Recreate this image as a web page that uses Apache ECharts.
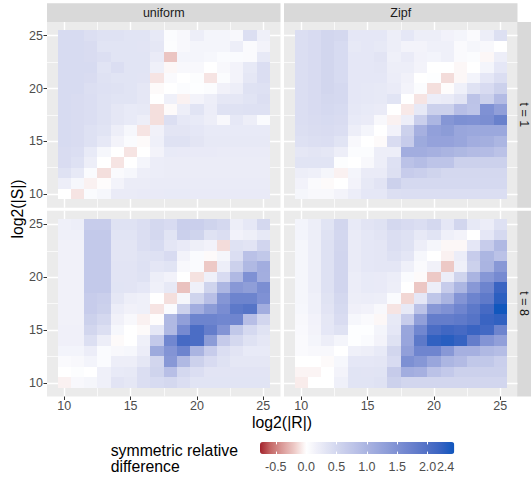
<!DOCTYPE html>
<html>
<head>
<meta charset="utf-8">
<script src="https://cdn.jsdelivr.net/npm/echarts@6/dist/echarts.min.js"></script>
<style>
html, body { margin: 0; padding: 0; background: #ffffff; }
#chart { width: 531px; height: 478px; }
</style>
</head>
<body>
<div id="chart"></div>
<script>
// grid values: x = log2(|R|), y = log2(|S|), rows go from y = 25 down to y = 10
const xValues = [10, 11, 12, 13, 14, 15, 16, 17, 18, 19, 20, 21, 22, 23, 24, 25]
const yValues = [25, 24, 23, 22, 21, 20, 19, 18, 17, 16, 15, 14, 13, 12, 11, 10]

const columnNames = ['uniform', 'Zipf']
const rowNames = ['t = 1', 't = 8']

const uniformT1 = [
  [0.46, 0.46, 0.40, 0.36, 0.36, 0.34, 0.34, 0.27, 0.04, 0.08, 0.20, 0.12, 0.12, 0.08, 0.40, 0.18],
  [0.46, 0.46, 0.44, 0.34, 0.34, 0.34, 0.33, 0.30, 0.03, 0.08, 0.12, 0.12, 0.12, 0.20, 0.06, 0.14],
  [0.46, 0.46, 0.44, 0.40, 0.34, 0.34, 0.34, 0.24, -0.22, 0.12, 0.12, 0.10, 0.05, 0.05, 0.06, 0.27],
  [0.46, 0.46, 0.46, 0.34, 0.42, 0.34, 0.34, 0.18, -0.03, 0.08, 0.08, 0.00, 0.08, 0.14, 0.27, 0.42],
  [0.46, 0.46, 0.44, 0.36, 0.34, 0.34, 0.33, -0.10, 0.06, 0.00, 0.03, -0.10, 0.04, 0.14, 0.30, 0.42],
  [0.46, 0.46, 0.40, 0.38, 0.36, 0.34, 0.30, -0.02, 0.00, 0.04, 0.02, 0.04, 0.16, 0.20, 0.36, 0.38],
  [0.46, 0.44, 0.42, 0.36, 0.34, 0.34, 0.30, 0.00, 0.18, -0.05, 0.14, 0.20, 0.30, 0.30, 0.34, 0.40],
  [0.46, 0.44, 0.42, 0.36, 0.30, 0.26, 0.27, -0.12, -0.02, 0.20, 0.34, 0.22, 0.36, 0.36, 0.38, 0.38],
  [0.46, 0.44, 0.42, 0.36, 0.30, 0.26, 0.20, -0.12, 0.40, 0.28, 0.26, 0.20, 0.08, 0.28, 0.20, 0.05],
  [0.46, 0.44, 0.38, 0.34, 0.20, 0.10, -0.10, 0.16, 0.32, 0.32, 0.29, 0.26, 0.26, 0.26, 0.26, 0.26],
  [0.46, 0.44, 0.38, 0.28, 0.14, 0.05, -0.02, 0.18, 0.36, 0.36, 0.32, 0.27, 0.27, 0.27, 0.27, 0.27],
  [0.44, 0.42, 0.26, 0.10, 0.00, -0.10, 0.00, 0.14, 0.26, 0.25, 0.25, 0.25, 0.24, 0.24, 0.24, 0.24],
  [0.44, 0.38, 0.20, 0.00, -0.10, 0.00, 0.12, 0.22, 0.23, 0.23, 0.23, 0.23, 0.23, 0.23, 0.23, 0.23],
  [0.36, 0.27, 0.05, -0.12, 0.06, 0.10, 0.20, 0.22, 0.23, 0.23, 0.23, 0.23, 0.23, 0.23, 0.23, 0.23],
  [0.20, 0.10, -0.05, -0.01, 0.14, 0.23, 0.23, 0.24, 0.24, 0.24, 0.24, 0.24, 0.24, 0.24, 0.24, 0.24],
  [0.00, -0.10, 0.05, 0.10, 0.24, 0.24, 0.25, 0.25, 0.26, 0.26, 0.25, 0.25, 0.25, 0.25, 0.25, 0.25]
]

const zipfT1 = [
  [0.41, 0.45, 0.52, 0.50, 0.29, 0.29, 0.29, 0.20, 0.29, 0.20, 0.20, 0.15, 0.12, 0.06, 0.20, 0.39],
  [0.41, 0.45, 0.52, 0.46, 0.27, 0.29, 0.27, 0.20, 0.14, 0.14, 0.18, 0.18, 0.06, 0.11, 0.08, 0.00],
  [0.41, 0.45, 0.52, 0.46, 0.29, 0.29, 0.33, 0.18, 0.24, 0.15, 0.13, 0.18, 0.06, 0.04, -0.03, 0.20],
  [0.41, 0.45, 0.52, 0.46, 0.29, 0.29, 0.31, 0.20, 0.20, 0.14, 0.00, 0.00, -0.03, 0.00, 0.12, 0.29],
  [0.41, 0.45, 0.52, 0.46, 0.29, 0.29, 0.29, 0.22, 0.16, 0.00, 0.02, -0.13, -0.03, 0.13, 0.29, 0.41],
  [0.42, 0.45, 0.52, 0.48, 0.29, 0.28, 0.27, 0.24, 0.14, 0.04, -0.12, -0.01, 0.18, 0.36, 0.45, 0.59],
  [0.42, 0.45, 0.50, 0.48, 0.29, 0.28, 0.27, 0.34, 0.00, -0.10, 0.21, 0.24, 0.33, 0.79, 0.59, 0.90],
  [0.42, 0.45, 0.48, 0.46, 0.28, 0.26, 0.24, 0.00, -0.08, 0.27, 0.59, 0.59, 0.85, 0.77, 1.50, 1.30],
  [0.42, 0.44, 0.46, 0.44, 0.26, 0.24, 0.08, -0.05, 0.20, 0.62, 0.98, 1.43, 1.52, 1.50, 1.55, 1.75],
  [0.40, 0.43, 0.44, 0.42, 0.20, 0.12, 0.00, 0.15, 0.59, 1.05, 1.28, 1.35, 1.20, 1.17, 1.17, 1.17],
  [0.38, 0.40, 0.42, 0.34, 0.08, 0.00, -0.02, 0.44, 0.65, 1.15, 1.25, 1.25, 1.20, 1.10, 1.07, 0.98],
  [0.30, 0.32, 0.30, 0.20, 0.04, 0.04, 0.20, 0.20, 1.10, 1.10, 1.05, 1.00, 0.95, 0.90, 0.88, 0.80],
  [0.34, 0.34, 0.34, 0.03, 0.00, 0.08, 0.20, 0.37, 0.80, 0.87, 0.77, 0.77, 0.59, 0.59, 0.59, 0.59],
  [0.20, 0.18, 0.11, -0.05, 0.12, 0.24, 0.24, 0.39, 0.65, 0.62, 0.55, 0.50, 0.50, 0.50, 0.50, 0.50],
  [0.15, 0.06, -0.02, 0.00, 0.14, 0.27, 0.33, 0.59, 0.48, 0.48, 0.48, 0.48, 0.48, 0.48, 0.48, 0.48],
  [0.11, 0.08, 0.08, 0.14, 0.22, 0.29, 0.29, 0.40, 0.41, 0.41, 0.41, 0.41, 0.41, 0.41, 0.41, 0.41]
]

const uniformT8 = [
  [0.18, 0.20, 0.65, 0.65, 0.36, 0.36, 0.41, 0.50, 0.45, 0.62, 0.62, 0.55, 0.50, 0.20, 0.28, 0.50],
  [0.18, 0.18, 0.70, 0.70, 0.34, 0.34, 0.42, 0.50, 0.34, 0.60, 0.55, 0.36, 0.42, 0.15, 0.19, 0.27],
  [0.16, 0.16, 0.70, 0.70, 0.32, 0.32, 0.41, 0.46, 0.31, 0.25, 0.19, 0.15, -0.13, 0.36, 0.33, 0.53],
  [0.16, 0.16, 0.70, 0.70, 0.32, 0.32, 0.36, 0.38, 0.45, 0.14, 0.05, -0.02, 0.11, 0.41, 0.82, 0.72],
  [0.16, 0.16, 0.70, 0.70, 0.33, 0.33, 0.38, 0.31, 0.34, 0.08, 0.05, -0.20, 0.20, 0.59, 0.93, 1.10],
  [0.16, 0.16, 0.70, 0.70, 0.33, 0.33, 0.36, 0.20, 0.15, 0.00, -0.11, 0.18, 0.45, 0.93, 1.50, 1.08],
  [0.16, 0.16, 0.70, 0.70, 0.34, 0.33, 0.29, 0.18, 0.27, -0.23, 0.18, 0.55, 0.98, 1.40, 1.32, 1.55],
  [0.16, 0.16, 0.65, 0.62, 0.30, 0.20, 0.18, 0.00, -0.12, 0.11, 0.55, 0.84, 1.43, 1.70, 1.70, 1.50],
  [0.16, 0.16, 0.65, 0.59, 0.22, 0.16, 0.18, -0.10, 0.05, 0.59, 1.10, 1.35, 1.56, 1.87, 1.95, 1.10],
  [0.16, 0.16, 0.59, 0.50, 0.16, 0.08, -0.05, -0.01, 0.93, 1.30, 1.70, 1.70, 1.65, 1.68, 0.85, 0.52],
  [0.17, 0.17, 0.52, 0.40, 0.10, 0.00, -0.02, 0.29, 0.93, 1.60, 2.05, 1.80, 1.45, 0.72, 0.48, 0.35],
  [0.17, 0.17, 0.40, 0.20, -0.02, 0.00, 0.18, 0.70, 1.65, 2.10, 2.05, 1.35, 0.68, 0.50, 0.36, 0.30],
  [0.13, 0.13, 0.22, 0.05, 0.08, 0.10, 0.22, 1.15, 1.45, 1.70, 1.00, 0.65, 0.41, 0.33, 0.26, 0.26],
  [0.06, 0.08, 0.13, 0.05, 0.20, 0.20, 0.30, 0.52, 1.40, 0.93, 0.59, 0.45, 0.36, 0.30, 0.30, 0.30],
  [0.00, 0.03, 0.00, 0.18, 0.26, 0.27, 0.41, 0.55, 0.84, 0.50, 0.41, 0.33, 0.33, 0.33, 0.33, 0.33],
  [-0.05, 0.08, 0.11, 0.18, 0.33, 0.30, 0.41, 0.46, 0.50, 0.41, 0.34, 0.34, 0.34, 0.34, 0.34, 0.34]
]

const zipfT8 = [
  [0.13, 0.20, 0.34, 0.52, 0.26, 0.33, 0.36, 0.50, 0.45, 0.41, 0.50, 0.29, 0.52, 0.27, 0.21, 0.37],
  [0.13, 0.20, 0.36, 0.51, 0.24, 0.29, 0.33, 0.42, 0.37, 0.27, 0.34, 0.18, 0.14, 0.00, 0.29, 0.48],
  [0.11, 0.20, 0.37, 0.52, 0.24, 0.29, 0.31, 0.41, 0.36, 0.20, 0.11, -0.03, -0.03, 0.29, 0.65, 0.93],
  [0.11, 0.20, 0.37, 0.53, 0.24, 0.29, 0.31, 0.37, 0.31, 0.10, 0.00, -0.05, 0.22, 0.65, 0.97, 0.80],
  [0.11, 0.20, 0.37, 0.53, 0.24, 0.29, 0.31, 0.31, 0.18, 0.06, 0.16, -0.20, 0.18, 0.59, 1.00, 1.40],
  [0.11, 0.20, 0.37, 0.53, 0.22, 0.26, 0.25, 0.22, 0.05, -0.02, -0.20, 0.22, 0.55, 1.00, 1.42, 1.60],
  [0.11, 0.20, 0.37, 0.53, 0.22, 0.26, 0.25, 0.20, 0.00, -0.21, 0.20, 0.65, 0.97, 1.40, 1.70, 2.20],
  [0.11, 0.18, 0.35, 0.50, 0.20, 0.22, 0.20, 0.05, -0.15, 0.29, 0.75, 1.00, 1.45, 1.70, 1.85, 2.28],
  [0.10, 0.18, 0.33, 0.47, 0.17, 0.15, 0.08, -0.10, 0.27, 0.80, 1.40, 1.50, 1.68, 1.87, 2.10, 2.43],
  [0.08, 0.15, 0.30, 0.44, 0.10, 0.06, -0.03, 0.27, 0.65, 1.30, 1.80, 1.80, 1.85, 1.95, 2.20, 2.25],
  [0.07, 0.14, 0.29, 0.36, 0.02, 0.02, 0.12, 0.29, 1.20, 1.65, 2.05, 2.15, 2.10, 2.20, 2.12, 1.70],
  [0.06, 0.12, 0.20, 0.12, 0.02, 0.05, 0.14, 0.36, 1.22, 1.87, 2.25, 2.30, 2.22, 1.80, 1.45, 1.30],
  [0.06, 0.08, 0.08, 0.00, 0.18, 0.20, 0.26, 0.52, 1.30, 1.68, 1.68, 1.40, 1.05, 1.05, 0.93, 0.87],
  [0.00, 0.00, -0.02, 0.10, 0.29, 0.29, 0.31, 0.45, 1.52, 1.42, 1.20, 0.98, 0.90, 0.72, 0.72, 0.62],
  [-0.04, -0.04, 0.00, 0.14, 0.34, 0.33, 0.34, 0.67, 1.10, 1.05, 0.80, 0.70, 0.59, 0.59, 0.59, 0.59],
  [-0.07, 0.00, 0.00, 0.18, 0.34, 0.34, 0.36, 0.59, 0.52, 0.52, 0.52, 0.52, 0.52, 0.52, 0.52, 0.52]
]

// panel order: top-left, top-right, bottom-left, bottom-right
const panelValues = [uniformT1, zipfT1, uniformT8, zipfT8]

const axisBreaks = [10, 15, 20, 25]
const minorBreaks = [12.5, 17.5, 22.5]
const legendTicks = [-0.5, 0, 0.5, 1, 1.5, 2]
const legendLabelValues = [-0.5, 0, 0.5, 1, 1.5, 2, 2.44]

const fillMin = -0.76
const fillMax = 2.44
// colour anchors of the fill scale (red - white - blue)
const fillAnchors = [
  [-0.76, '#a3222c'], [-0.6, '#c36463'], [-0.4, '#da9a98'], [-0.2, '#edc9c6'], [0, '#ffffff'],
  [0.2, '#edeef8'], [0.4, '#dcdff2'], [0.6, '#cbd0ec'], [0.8, '#bbc2e7'], [1.0, '#aab4e1'],
  [1.2, '#99a6dc'], [1.4, '#8898d6'], [1.6, '#768ad1'], [1.8, '#647dcb'], [2.0, '#5170c6'],
  [2.2, '#3a64c2'], [2.44, '#0f56bd']
]

const fontFamily = '"Liberation Sans", Arial, sans-serif'
const axisRange = [8.7, 26.3]

// layout of the panels
const panelLeft = [47, 284]
const panelTop = [22, 210.7]
const panelWidth = 233.5
const panelHeight = 185.8

const hexToRgb = (h) => [1, 3, 5].map(i => parseInt(h.slice(i, i + 2), 16))

// evenly spaced colour stops so that the visualMap reproduces the anchors
const buildStops = () => {
  const stops = []
  const n = 80
  for (let i = 0; i <= n; i++) {
    const v = fillMin + (fillMax - fillMin) * i / n
    let k = 0
    while (k < fillAnchors.length - 2 && v > fillAnchors[k + 1][0]) k++
    const [v0, c0] = fillAnchors[k]
    const [v1, c1] = fillAnchors[k + 1]
    const t = Math.min(1, Math.max(0, (v - v0) / (v1 - v0)))
    const a = hexToRgb(c0)
    const b = hexToRgb(c1)
    const rgb = a.map((x, j) => Math.round(x + (b[j] - x) * t))
    stops.push('rgb(' + rgb.join(',') + ')')
  }
  return stops
}

const renderTile = (params, api) => {
  const x = api.value(0)
  const y = api.value(1)
  const p0 = api.coord([x - 0.5, y + 0.5])
  const p1 = api.coord([x + 0.5, y - 0.5])
  const x0 = Math.round(p0[0]), y0 = Math.round(p0[1])
  const x1 = Math.round(p1[0]), y1 = Math.round(p1[1])
  return {
    type: 'rect',
    shape: { x: x0, y: y0, width: x1 - x0, height: y1 - y0 },
    style: { fill: api.visual('color') }
  }
}

const grids = []
const xAxes = []
const yAxes = []
const series = []
const graphics = []

panelValues.forEach((values, p) => {
  const col = p % 2
  const row = Math.floor(p / 2)
  grids.push({
    left: panelLeft[col], top: panelTop[row], width: panelWidth, height: panelHeight,
    show: true, backgroundColor: '#ebebeb', borderWidth: 0
  })
  const tickStyle = { show: true, length: 3.5, lineStyle: { color: '#333333', width: 1 } }
  const labelStyle = { fontSize: 12.5, color: '#4d4d4d', fontFamily: fontFamily }
  xAxes.push({
    type: 'value', gridIndex: p, min: axisRange[0], max: axisRange[1], position: 'bottom',
    axisLine: { show: false },
    axisTick: { ...tickStyle, show: row === 1, customValues: axisBreaks },
    axisLabel: { ...labelStyle, show: row === 1, customValues: axisBreaks, margin: 3 },
    splitLine: { show: true, lineStyle: { color: '#ffffff', width: 1.4 } }
  })
  xAxes.push({
    type: 'value', gridIndex: p, min: axisRange[0], max: axisRange[1], position: 'bottom',
    axisLine: { show: false },
    axisTick: { show: false, customValues: minorBreaks },
    axisLabel: { show: false, customValues: minorBreaks },
    splitLine: { show: true, lineStyle: { color: '#ffffff', width: 0.7 } }
  })
  yAxes.push({
    type: 'value', gridIndex: p, min: axisRange[0], max: axisRange[1], position: 'left',
    axisLine: { show: false },
    axisTick: { ...tickStyle, show: col === 0, customValues: axisBreaks },
    axisLabel: { ...labelStyle, show: col === 0, customValues: axisBreaks, margin: 4 },
    splitLine: { show: true, lineStyle: { color: '#ffffff', width: 1.4 } }
  })
  yAxes.push({
    type: 'value', gridIndex: p, min: axisRange[0], max: axisRange[1], position: 'left',
    axisLine: { show: false },
    axisTick: { show: false, customValues: minorBreaks },
    axisLabel: { show: false, customValues: minorBreaks },
    splitLine: { show: true, lineStyle: { color: '#ffffff', width: 0.7 } }
  })

  const data = []
  yValues.forEach((y, i) => {
    xValues.forEach((x, j) => {
      data.push([x, y, values[i][j]])
    })
  })
  series.push({
    type: 'custom',
    xAxisIndex: 2 * p,
    yAxisIndex: 2 * p,
    renderItem: renderTile,
    encode: { x: 0, y: 1 },
    data: data,
    silent: true,
    animation: false
  })
})

// facet strips
columnNames.forEach((name, col) => {
  graphics.push({
    type: 'rect', shape: { x: panelLeft[col], y: 3.3, width: panelWidth, height: 18.7 },
    style: { fill: '#d9d9d9' }, silent: true
  })
  graphics.push({
    type: 'text', x: panelLeft[col] + panelWidth / 2, y: 12.8,
    style: { text: name, fontSize: 12.5, fontFamily: fontFamily, fill: '#1a1a1a', align: 'center', verticalAlign: 'middle' }
  })
})
rowNames.forEach((name, row) => {
  graphics.push({
    type: 'rect', shape: { x: 517.2, y: panelTop[row], width: 20, height: panelHeight },
    style: { fill: '#d9d9d9' }, silent: true
  })
  // the strip runs past the right edge, keep its label just inside the picture
  graphics.push({
    type: 'text', x: 524.4, y: panelTop[row] + panelHeight / 2, rotation: -Math.PI / 2,
    style: { text: name, fontSize: 12.5, fontFamily: fontFamily, fill: '#1a1a1a', align: 'center', verticalAlign: 'middle' }
  })
})

// axis titles
graphics.push({
  type: 'text', x: 282, y: 422.5,
  style: { text: 'log2(|R|)', fontSize: 15.8, fontFamily: fontFamily, fill: '#000000', align: 'center', verticalAlign: 'middle' }
})
graphics.push({
  type: 'text', x: 17, y: 209, rotation: Math.PI / 2,
  style: { text: 'log2(|S|)', fontSize: 15.8, fontFamily: fontFamily, fill: '#000000', align: 'center', verticalAlign: 'middle' }
})
// legend title
graphics.push({
  type: 'text', x: 110.7, y: 458,
  style: {
    text: 'symmetric relative\ndifference', fontSize: 15.8, lineHeight: 16, fontFamily: fontFamily,
    fill: '#000000', align: 'left', verticalAlign: 'middle'
  }
})

// colour bar labels live on their own small grid lined up with the visualMap bar
const legendGrid = grids.length
grids.push({ left: 260, top: 442, width: 194.3, height: 12, show: false })
xAxes.push({
  type: 'value', gridIndex: legendGrid, min: fillMin, max: fillMax, position: 'bottom', z: 10,
  axisLine: { show: false },
  axisTick: { show: true, inside: true, length: 2.4, customValues: legendTicks, lineStyle: { color: '#ffffff', width: 1 } },
  axisLabel: {
    customValues: legendLabelValues, margin: 6, fontSize: 12.5, color: '#4d4d4d', fontFamily: fontFamily,
    alignMaxLabel: 'right', formatter: (v) => v.toFixed(1)
  },
  splitLine: { show: false }
})
xAxes.push({
  type: 'value', gridIndex: legendGrid, min: fillMin, max: fillMax, position: 'top', z: 10,
  axisLine: { show: false },
  axisTick: { show: true, inside: true, length: 2.4, customValues: legendTicks, lineStyle: { color: '#ffffff', width: 1 } },
  axisLabel: { show: false },
  splitLine: { show: false }
})
yAxes.push({ type: 'value', gridIndex: legendGrid, min: 0, max: 1, show: false })

const chart = echarts.init(document.getElementById('chart'), null, { renderer: 'svg' })
chart.setOption({
  animation: false,
  backgroundColor: '#ffffff',
  grid: grids,
  xAxis: xAxes,
  yAxis: yAxes,
  visualMap: {
    type: 'continuous',
    seriesIndex: [0, 1, 2, 3],
    dimension: 2,
    min: fillMin,
    max: fillMax,
    orient: 'horizontal',
    left: 260,
    top: 442,
    itemWidth: 12,
    itemHeight: 194.3,
    padding: 0,
    calculable: false,
    hoverLink: false,
    inRange: { color: buildStops() }
  },
  graphic: graphics,
  series: series
})
</script>
</body>
</html>
